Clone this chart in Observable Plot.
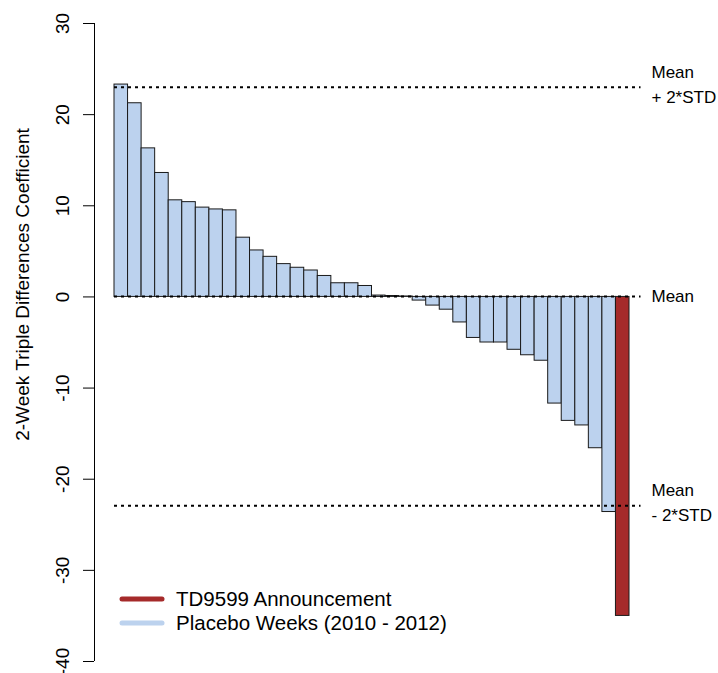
<!DOCTYPE html>
<html>
<head>
<meta charset="utf-8">
<script src="https://cdn.jsdelivr.net/npm/d3@7"></script>
<script src="https://cdn.jsdelivr.net/npm/@observablehq/plot@0.6"></script>
<style>
  body { margin: 0; background: #fff; font-family: "Liberation Sans", Arial, sans-serif; }
  #wrap { position: relative; width: 718px; height: 673px; }
  #legend { position: absolute; left: 119px; top: 587px; font-size: 20.5px; color: #000; }
  #legend .row { display: flex; align-items: center; height: 24px; }
  #legend svg { margin-right: 11px; }
</style>
</head>
<body>
<div id="wrap"><div id="legend"></div></div>
<script>
// Placebo weeks (sorted), then the announcement week
const placeboValues = [23.3, 21.25, 16.3, 13.6, 10.6, 10.4, 9.8, 9.6, 9.5, 6.5, 5.1, 4.4, 3.6, 3.2, 2.9, 2.3, 1.5, 1.5, 1.2,
  0.15, 0.1, 0.05,
  -0.4, -0.95, -1.4, -2.8, -4.5, -5.0, -5.0, -5.8, -6.4, -7.0, -11.7, -13.6, -14.1, -16.6, -23.6];
const announcementValue = -35.0;
const meanValue = 0.05;
const upperValue = 23.0;
const lowerValue = -22.9;
const yTicks = [-40, -30, -20, -10, 0, 10, 20, 30];
const refLines = [
  {value: upperValue, label: "Mean\n+ 2*STD"},
  {value: meanValue, label: "Mean"},
  {value: lowerValue, label: "Mean\n- 2*STD"}
];
const legendItems = [
  {label: "TD9599 Announcement", color: "#A52A2A"},
  {label: "Placebo Weeks (2010 - 2012)", color: "#BCD2EE"}
];
const yTitle = "2-Week Triple Differences Coefficient";

const bars = placeboValues.map((v, i) => ({i, v, type: "placebo"}));
bars.push({i: placeboValues.length, v: announcementValue, type: "announcement"});
const nBars = bars.length;
const lineExtent = nBars + 0.85;

const font = "Liberation Sans, Arial, sans-serif";
const twoLine = refLines.filter(d => d.label.includes("\n"));
const oneLine = refLines.filter(d => !d.label.includes("\n"));

const chart = Plot.plot({
  width: 718,
  height: 673,
  marginLeft: 114,
  marginRight: 89,
  marginTop: 23,
  marginBottom: 12,
  style: {fontFamily: font, background: "#fff", color: "#000"},
  x: {domain: [0, nBars], axis: null},
  y: {domain: [-40, 30], axis: null},
  marks: [
    Plot.rectY(bars, {
      x1: d => d.i, x2: d => d.i + 1, y1: 0, y2: "v",
      fill: d => d.type === "announcement" ? "#A52A2A" : "#BCD2EE",
      stroke: "#1a1a1a", strokeWidth: 1, inset: 0
    }),
    Plot.ruleY(refLines, {
      y: "value", x1: 0, x2: lineExtent,
      stroke: "#000", strokeWidth: 2, strokeDasharray: "3,4"
    }),
    Plot.text(twoLine, {
      y: "value", text: "label", frameAnchor: "right", dx: 22, dy: -5,
      textAnchor: "start", lineAnchor: "middle", lineHeight: 1.45,
      fontSize: 17, fill: "#000"
    }),
    Plot.text(oneLine, {
      y: "value", text: "label", frameAnchor: "right", dx: 22,
      textAnchor: "start", lineAnchor: "middle",
      fontSize: 17, fill: "#000"
    }),
    Plot.axisY({ticks: yTicks, tickSize: 11, dx: -20, tickFormat: () => "", label: null}),
    Plot.ruleX([0], {y1: -40, y2: 30, dx: -20, stroke: "#000", strokeWidth: 1}),
    Plot.text(yTicks, {
      y: d => d, text: d => String(d), frameAnchor: "left", dx: -52,
      rotate: -90, textAnchor: "middle", lineAnchor: "middle", fontSize: 19, fill: "#000"
    }),
    Plot.text([yTitle], {
      frameAnchor: "left", dx: -92, dy: -58, rotate: -90,
      textAnchor: "middle", lineAnchor: "middle", fontSize: 19, fill: "#000"
    })
  ]
});
document.getElementById("wrap").prepend(chart);

const legend = document.getElementById("legend");
for (const item of legendItems) {
  const row = document.createElement("div");
  row.className = "row";
  row.innerHTML = `<svg width="46" height="10"><line x1="3" y1="5" x2="43" y2="5" stroke="${item.color}" stroke-width="5" stroke-linecap="round"/></svg><span>${item.label}</span>`;
  legend.appendChild(row);
}
</script>
</body>
</html>
